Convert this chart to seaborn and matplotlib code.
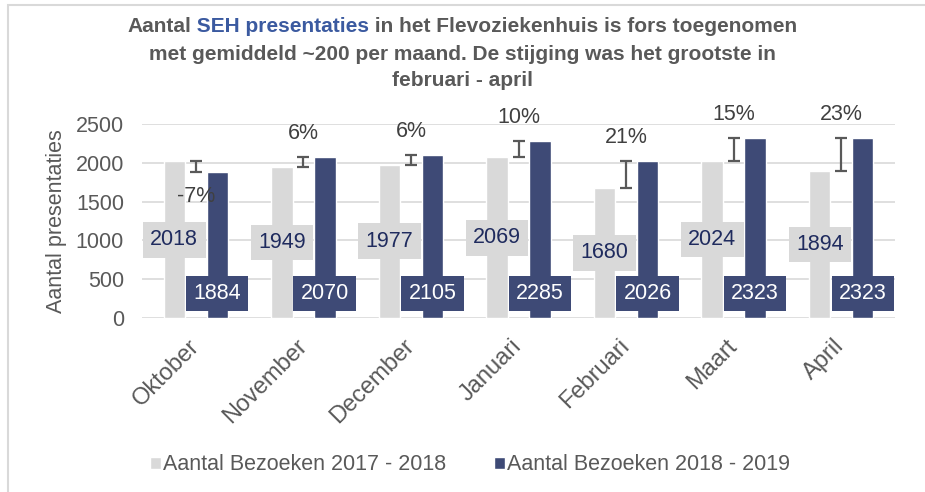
import matplotlib
matplotlib.use("Agg")
import matplotlib.pyplot as plt
import matplotlib.patches as mpatches
import numpy as np
import pandas as pd
import seaborn as sns

# --- data -------------------------------------------------------------
maanden = ["Oktober", "November", "December", "Januari", "Februari", "Maart", "April"]
bezoeken_2017_2018 = [2018, 1949, 1977, 2069, 1680, 2024, 1894]
bezoeken_2018_2019 = [1884, 2070, 2105, 2285, 2026, 2323, 2323]
reeks_namen = ["Aantal Bezoeken 2017 - 2018", "Aantal Bezoeken 2018 - 2019"]
y_ticks = [0, 500, 1000, 1500, 2000, 2500]

# --- styling ----------------------------------------------------------
GRIJS = "#D9D9D9"
NAVY = "#3E4A76"
TEKST = "#595959"
DONKERBLAUW = "#1F2B5E"
TITEL_BLAUW = "#3B5AA0"
FS = 15.5

sns.set_theme(style="white")
plt.rcParams["font.family"] = ["Liberation Sans", "DejaVu Sans"]

df = pd.DataFrame({
    "Maand": maanden * 2,
    "Reeks": [reeks_namen[0]] * len(maanden) + [reeks_namen[1]] * len(maanden),
    "Aantal": bezoeken_2017_2018 + bezoeken_2018_2019,
})

fig = plt.figure(figsize=(9.25, 4.92), dpi=100)
ax = fig.add_axes([142 / 925, (492 - 318) / 492, (895 - 142) / 925, 194 / 492])

sns.barplot(data=df, x="Maand", y="Aantal", hue="Reeks", order=maanden,
            hue_order=reeks_namen, palette=[GRIJS, NAVY], width=0.8, gap=0.5,
            saturation=1, ax=ax, legend=True)

ax.set_ylim(0, 2500)
ax.set_xlim(-0.5, len(maanden) - 0.5)
ax.set_yticks(y_ticks)
ax.yaxis.grid(True, color=GRIJS, lw=1.2)
ax.set_axisbelow(True)
for s in ax.spines.values():
    s.set_visible(False)
ax.tick_params(axis="y", length=0, pad=13, labelsize=FS, labelcolor=TEKST)
ax.tick_params(axis="x", length=0, pad=18, labelsize=17, labelcolor=TEKST)
for lbl in ax.get_xticklabels():
    lbl.set_rotation(45)
    lbl.set_ha("right")
    lbl.set_va("center")
    lbl.set_rotation_mode("anchor")
ax.set_xlabel("")
ax.set_ylabel("Aantal presentaties", fontsize=FS, color=TEKST, labelpad=6)

# --- value labels in boxes --------------------------------------------
x = np.arange(len(maanden))
for i, (oud, nieuw) in enumerate(zip(bezoeken_2017_2018, bezoeken_2018_2019)):
    ax.text(i - 0.2, oud / 2, f"{oud}", ha="center", va="center", fontsize=FS,
            color=DONKERBLAUW,
            bbox=dict(boxstyle="square,pad=0.34", fc=GRIJS, ec="none"))
    ax.text(i + 0.2, 316, f"{nieuw}", ha="center", va="center", fontsize=FS,
            color="white",
            bbox=dict(boxstyle="square,pad=0.34", fc=NAVY, ec="none"))

# --- change markers between the bars ----------------------------------
oud_arr = np.array(bezoeken_2017_2018, dtype=float)
nieuw_arr = np.array(bezoeken_2018_2019, dtype=float)
mid = (oud_arr + nieuw_arr) / 2
half = np.abs(nieuw_arr - oud_arr) / 2
ax.errorbar(x, mid, yerr=half, fmt="none", ecolor=TEKST, elinewidth=1.6,
            capsize=4.5, capthick=1.6, zorder=5)

for i in range(len(maanden)):
    pct = round((nieuw_arr[i] / oud_arr[i] - 1) * 100)
    if pct >= 0:
        top = max(oud_arr[i], nieuw_arr[i])
        ax.annotate(f"{pct}%", (x[i], top), xytext=(0, 17),
                    textcoords="offset points", ha="center", va="center",
                    fontsize=FS, color="#404040")
    else:
        low = min(oud_arr[i], nieuw_arr[i])
        ax.annotate(f"{pct}%", (x[i], low), xytext=(0, -18),
                    textcoords="offset points", ha="center", va="center",
                    fontsize=FS, color="#404040")

# --- legend -----------------------------------------------------------
handles, labels = ax.get_legend_handles_labels()
ax.legend_.remove()
fig.legend(handles, labels, loc="center", bbox_to_anchor=(470 / 925, 27 / 492),
           ncol=2, frameon=False, fontsize=FS, labelcolor=TEKST,
           handlelength=0.5, handleheight=0.5, handletextpad=0.1,
           columnspacing=2.2)

# --- title with highlighted phrase ------------------------------------
TFS = 15
titel_kw = dict(fontsize=TFS, fontweight="bold", color=TEKST)
t1a = fig.text(0.5, 1 - 26 / 492, "Aantal", ha="left", va="center", **titel_kw)
t1b = ax.annotate(" SEH presentaties", xy=(1, 0), xycoords=t1a, ha="left", va="bottom",
                  fontsize=TFS, fontweight="bold", color=TITEL_BLAUW)
t1c = ax.annotate(" in het Flevoziekenhuis is fors toegenomen", xy=(1, 0), xycoords=t1b,
                  ha="left", va="bottom", **titel_kw)
fig.text(0.5, 1 - 54 / 492, "met gemiddeld ~200 per maand. De stijging was het grootste in",
         ha="center", va="center", **titel_kw)
fig.text(0.5, 1 - 80 / 492, "februari - april", ha="center", va="center", **titel_kw)

fig.canvas.draw()
r = fig.canvas.get_renderer()
bb_a = t1a.get_window_extent(r)
bb_c = t1c.get_window_extent(r)
totaal = bb_c.x1 - bb_a.x0
fig_w = fig.bbox.width
t1a.set_x((fig_w / 2 - totaal / 2) / fig_w)

# --- outer frame -------------------------------------------------------
fig.patches.append(mpatches.Rectangle((8 / 925, -0.05), 1.2, (492 - 5) / 492 + 0.05,
                                      transform=fig.transFigure, fill=False,
                                      ec=GRIJS, lw=1.5, clip_on=False))

fig.savefig("out.png", dpi=100)
